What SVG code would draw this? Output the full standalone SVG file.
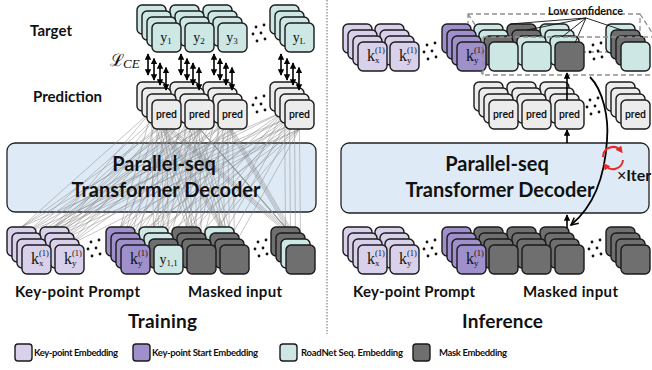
<svg xmlns="http://www.w3.org/2000/svg" xmlns:xlink="http://www.w3.org/1999/xlink" width="652" height="370" viewBox="0 0 652 370">
  <style>
    text { font-family: Lato, "Open Sans", "Liberation Sans", sans-serif; fill: #111; }
    .c { stroke: #1a1a1a; stroke-width: 1.4; }
    .kp { fill: #d9d1eb; }
    .ks { fill: #9f90cc; }
    .rn { fill: #cde7e5; }
    .mk { fill: #6f6f6f; }
    .pd { fill: #ececec; }
    .dec { fill: #deeaf6; stroke: #222; stroke-width: 1.3; }
    .dt { font-size: 20px; font-weight: 700; text-anchor: middle; }
    .sv, .sv text { font-family: "Liberation Serif", "DejaVu Serif", serif; }
    .pr { font-family: Roboto, "Liberation Sans", sans-serif; font-size: 10.5px; font-weight: 500; text-anchor: middle; }
    .lab { font-size: 15px; font-weight: 700; }
    .ttl { font-size: 19px; font-weight: 700; }
    .leg { font-size: 9.5px; font-weight: 700; }
    .web { fill: none; stroke: #8c8c8c; stroke-width: 0.6; stroke-opacity: 0.85; }
    .dbl { stroke: #000; stroke-width: 1.6; marker-start: url(#ah); marker-end: url(#ah); }
    .up { stroke: #000; stroke-width: 1.6; marker-end: url(#ah); }
    .dash { fill: none; stroke: #8f8f8f; stroke-width: 1.3; stroke-dasharray: 5 3; }
  </style>
  <defs>
    <marker id="ah" viewBox="0 0 10 10" refX="9" refY="5" markerWidth="4" markerHeight="4" orient="auto-start-reverse">
      <path d="M0 0L10 5L0 10z" fill="#000"/>
    </marker>
    <marker id="chev" viewBox="0 0 10 10" refX="9" refY="5" markerWidth="5" markerHeight="5" orient="auto">
      <path d="M1 1L9 5L1 9" fill="none" stroke="#000" stroke-width="1.6"/>
    </marker>
    <marker id="rh" viewBox="0 0 10 10" refX="6" refY="5" markerWidth="3.5" markerHeight="3.5" orient="auto">
      <path d="M0 0L10 5L0 10z" fill="#e52a2a"/>
    </marker>
    <!-- stack of four cards, front card at the origin -->
    <g id="stk">
      <rect class="c" x="-15" y="-18" width="29" height="29" rx="5"/>
      <rect class="c" x="-10" y="-12" width="29" height="29" rx="5"/>
      <rect class="c" x="-5" y="-6" width="29" height="29" rx="5"/>
      <rect class="c" x="0" y="0" width="29" height="29" rx="5"/>
    </g>
    <g id="dots" fill="#111">
      <circle cx="4" cy="2" r="1.4"/><circle cx="12" cy="0" r="1.4"/>
      <circle cx="1" cy="9" r="1.4"/><circle cx="9" cy="8" r="1.4"/>
      <circle cx="5" cy="16" r="1.4"/><circle cx="13" cy="14" r="1.4"/>
    </g>
    <!-- four staggered double arrows between target and prediction -->
    <g id="arr4">
      <line class="dbl" x1="-4" y1="54" x2="-4" y2="75"/>
      <line class="dbl" x1="2" y1="58.5" x2="2" y2="80"/>
      <line class="dbl" x1="8" y1="63" x2="8" y2="85"/>
      <line class="dbl" x1="14" y1="67.5" x2="14" y2="90"/>
    </g>
    <!-- attention lines of the front layer; other layers are shifted copies -->
    <path id="web" class="web" d="M166.5 129L36.5 245M166.5 129L69.5 245M166.5 129L135.5 245M166.5 129L168.5 245M166.5 129L201.5 245M166.5 129L234.5 245M166.5 129L300.5 245M199.5 129L36.5 245M199.5 129L69.5 245M199.5 129L135.5 245M199.5 129L168.5 245M199.5 129L201.5 245M199.5 129L234.5 245M199.5 129L300.5 245M232.5 129L36.5 245M232.5 129L69.5 245M232.5 129L135.5 245M232.5 129L168.5 245M232.5 129L201.5 245M232.5 129L234.5 245M232.5 129L300.5 245M299.5 129L36.5 245M299.5 129L69.5 245M299.5 129L135.5 245M299.5 129L168.5 245M299.5 129L201.5 245M299.5 129L234.5 245M299.5 129L300.5 245"/>
  </defs>

  <!-- divider -->
  <line x1="327" y1="0" x2="327" y2="334" stroke="#9a9a9a" stroke-width="1.5" stroke-dasharray="1.5 1.5"/>

  <!-- ===== Training ===== -->
  <g id="dec-train">
    <rect class="dec" x="7" y="143" width="309" height="69" rx="8"/>
  </g>
  <g id="connectors-train">
    <use href="#web"/>
    <use href="#web" x="-5" y="-6"/>
    <use href="#web" x="-10" y="-12"/>
    <use href="#web" x="-15" y="-18"/>
  </g>
  <g id="dec-train-text">
    <text class="dt" x="164" y="171">Parallel-seq</text>
    <text class="dt" x="166" y="197">Transformer Decoder</text>
  </g>

  <!-- stacks are drawn right to left so each front card covers its neighbour -->
  <g id="train-input">
    <rect class="c mk" x="271" y="227" width="29" height="29" rx="5"/>
    <rect class="c mk" x="276" y="233" width="29" height="29" rx="5"/>
    <rect class="c rn" x="281" y="239" width="29" height="29" rx="5"/>
    <rect class="c mk" x="286" y="245" width="29" height="29" rx="5"/>
    <rect class="c rn" x="205" y="227" width="29" height="29" rx="5"/>
    <rect class="c mk" x="210" y="233" width="29" height="29" rx="5"/>
    <rect class="c mk" x="215" y="239" width="29" height="29" rx="5"/>
    <rect class="c mk" x="220" y="245" width="29" height="29" rx="5"/>
    <use href="#stk" class="mk" x="187" y="245"/>
    <rect class="c rn" x="139" y="227" width="29" height="29" rx="5"/>
    <rect class="c rn" x="144" y="233" width="29" height="29" rx="5"/>
    <rect class="c mk" x="149" y="239" width="29" height="29" rx="5"/>
    <rect class="c rn" x="154" y="245" width="29" height="29" rx="5"/>
    <use href="#stk" class="ks" x="121" y="245"/>
    <use href="#stk" class="kp" x="55" y="245"/>
    <use href="#stk" class="kp" x="22" y="245"/>
    <use href="#dots" x="87" y="240"/>
    <use href="#dots" x="254" y="240"/>
    <g class="sv">
      <text x="31" y="264" font-size="16">k</text><text x="39" y="256" font-size="8.5">(1)</text><text x="39" y="266" font-size="9">x</text>
      <text x="64" y="264" font-size="16">k</text><text x="72" y="256" font-size="8.5">(1)</text><text x="72" y="266" font-size="9">y</text>
      <text x="130" y="264" font-size="16">k</text><text x="138" y="256" font-size="8.5">(1)</text><text x="138" y="266" font-size="9">y</text>
      <text x="168.5" y="264" font-size="14" text-anchor="middle">y<tspan font-size="9" dy="2">1,1</tspan></text>
    </g>
  </g>

  <g id="train-pred">
    <use href="#stk" class="pd" x="285" y="100"/>
    <use href="#stk" class="pd" x="218" y="100"/>
    <use href="#stk" class="pd" x="185" y="100"/>
    <use href="#stk" class="pd" x="152" y="100"/>
    <use href="#dots" x="252" y="96"/>
    <text class="pr" x="166.5" y="118">pred</text>
    <text class="pr" x="199.5" y="118">pred</text>
    <text class="pr" x="232.5" y="118">pred</text>
    <text class="pr" x="299.5" y="118">pred</text>
  </g>

  <g id="train-target">
    <use href="#stk" class="rn" x="285" y="23"/>
    <use href="#stk" class="rn" x="218" y="23"/>
    <use href="#stk" class="rn" x="185" y="23"/>
    <use href="#stk" class="rn" x="152" y="23"/>
    <use href="#dots" x="252" y="25"/>
    <g class="sv" font-size="14" text-anchor="middle">
      <text x="166" y="42">y<tspan font-size="9" dy="2">1</tspan></text>
      <text x="199" y="42">y<tspan font-size="9" dy="2">2</tspan></text>
      <text x="232" y="42">y<tspan font-size="9" dy="2">3</tspan></text>
      <text x="299" y="42">y<tspan font-size="9" dy="2">L</tspan></text>
    </g>
  </g>

  <g id="loss-arrows">
    <use href="#arr4" x="152"/>
    <use href="#arr4" x="185"/>
    <use href="#arr4" x="218"/>
    <use href="#arr4" x="285"/>
    <text x="110" y="66" font-family="DejaVu Serif, serif" font-size="17">ℒ</text>
    <text x="123" y="68" class="sv" font-style="italic" font-size="13">CE</text>
  </g>

  <g id="train-labels">
    <text class="lab" x="30" y="36" textLength="42">Target</text>
    <text class="lab" x="33" y="102" textLength="69">Prediction</text>
    <text class="lab" x="15" y="297" textLength="125">Key-point Prompt</text>
    <text class="lab" x="188" y="297" textLength="94">Masked input</text>
    <text class="ttl" x="128" y="328" textLength="69">Training</text>
  </g>

  <!-- ===== Inference ===== -->
  <g id="dec-infer">
    <rect class="dec" x="341" y="143" width="308" height="70" rx="8"/>
    <text class="dt" x="497" y="171">Parallel-seq</text>
    <text class="dt" x="500" y="197">Transformer Decoder</text>
  </g>

  <g id="infer-input">
    <use href="#stk" class="mk" x="621" y="245"/>
    <use href="#stk" class="mk" x="555" y="245"/>
    <use href="#stk" class="mk" x="522" y="245"/>
    <use href="#stk" class="mk" x="489" y="245"/>
    <use href="#stk" class="ks" x="457" y="245"/>
    <use href="#stk" class="kp" x="390" y="245"/>
    <use href="#stk" class="kp" x="358" y="245"/>
    <use href="#dots" x="423" y="240"/>
    <use href="#dots" x="588" y="240"/>
    <g class="sv">
      <text x="367" y="264" font-size="16">k</text><text x="375" y="256" font-size="8.5">(1)</text><text x="375" y="266" font-size="9">x</text>
      <text x="399" y="264" font-size="16">k</text><text x="407" y="256" font-size="8.5">(1)</text><text x="407" y="266" font-size="9">y</text>
      <text x="466" y="264" font-size="16">k</text><text x="474" y="256" font-size="8.5">(1)</text><text x="474" y="266" font-size="9">y</text>
    </g>
  </g>

  <g id="infer-pred">
    <use href="#stk" class="pd" x="621" y="100"/>
    <use href="#stk" class="pd" x="555" y="100"/>
    <use href="#stk" class="pd" x="522" y="100"/>
    <use href="#stk" class="pd" x="489" y="100"/>
    <use href="#dots" x="586" y="98"/>
    <text class="pr" x="503.5" y="118">pred</text>
    <text class="pr" x="536.5" y="118">pred</text>
    <text class="pr" x="569.5" y="118">pred</text>
    <text class="pr" x="635.5" y="118">pred</text>
  </g>

  <!-- back face of the low-confidence box -->
  <path class="dash" d="M468 14H640V52H468ZM468 14L483 37M640 14L655 37M468 52L483 75"/>

  <g id="infer-output">
    <rect class="c rn" x="606" y="24" width="29" height="29" rx="5"/>
    <rect class="c mk" x="611" y="30" width="29" height="29" rx="5"/>
    <rect class="c mk" x="616" y="36" width="29" height="29" rx="5"/>
    <rect class="c rn" x="621" y="42" width="29" height="29" rx="5"/>
    <rect class="c rn" x="540" y="24" width="29" height="29" rx="5"/>
    <rect class="c rn" x="545" y="30" width="29" height="29" rx="5"/>
    <rect class="c rn" x="550" y="36" width="29" height="29" rx="5"/>
    <rect class="c mk" x="555" y="42" width="29" height="29" rx="5"/>
    <rect class="c mk" x="507" y="24" width="29" height="29" rx="5"/>
    <rect class="c mk" x="512" y="30" width="29" height="29" rx="5"/>
    <rect class="c rn" x="517" y="36" width="29" height="29" rx="5"/>
    <rect class="c rn" x="522" y="42" width="29" height="29" rx="5"/>
    <rect class="c rn" x="474" y="24" width="29" height="29" rx="5"/>
    <rect class="c rn" x="479" y="30" width="29" height="29" rx="5"/>
    <rect class="c mk" x="484" y="36" width="29" height="29" rx="5"/>
    <rect class="c rn" x="489" y="42" width="29" height="29" rx="5"/>
    <use href="#stk" class="ks" x="457" y="42"/>
    <use href="#stk" class="kp" x="390" y="42"/>
    <use href="#stk" class="kp" x="358" y="42"/>
    <use href="#dots" x="423" y="43"/>
    <use href="#dots" x="589" y="43"/>
    <g class="sv">
      <text x="367" y="61" font-size="16">k</text><text x="375" y="53" font-size="8.5">(1)</text><text x="375" y="63" font-size="9">x</text>
      <text x="399" y="61" font-size="16">k</text><text x="407" y="53" font-size="8.5">(1)</text><text x="407" y="63" font-size="9">y</text>
      <text x="466" y="61" font-size="16">k</text><text x="474" y="53" font-size="8.5">(1)</text><text x="474" y="63" font-size="9">y</text>
    </g>
  </g>

  <!-- front face of the low-confidence box and its label -->
  <g id="low-confidence">
    <path class="dash" d="M483 37H652M483 37V75H652"/>
    <path d="M586 18L510 24M586 18L527 30M586 18L562 37M586 18L575 43M586 18L622 30" stroke="#111" stroke-width="0.9" fill="none"/>
    <text x="548" y="15" font-family="Roboto, 'Liberation Sans', sans-serif" font-size="12" font-weight="700" textLength="75" lengthAdjust="spacingAndGlyphs">Low confidence</text>
  </g>

  <g id="connectors-infer">
    <line class="up" x1="567" y1="228" x2="567" y2="215"/>
    <line class="up" x1="567" y1="143" x2="567" y2="130"/>
    <line class="up" x1="567" y1="100" x2="567" y2="73"/>
    <path d="M590 77C603 90 609 118 607 140C605 175 594 206 571 225" fill="none" stroke="#000" stroke-width="1.8" marker-end="url(#chev)"/>
  </g>

  <g id="iter">
    <path d="M603 157A10 10 0 0 1 621 151" fill="none" stroke="#e52a2a" stroke-width="2" marker-end="url(#rh)"/>
    <path d="M623 160A10 10 0 0 1 605 165" fill="none" stroke="#e52a2a" stroke-width="2" marker-end="url(#rh)"/>
    <text x="617" y="181" font-size="16"><tspan font-family="'Liberation Sans', sans-serif">×</tspan><tspan font-weight="700">Iter</tspan></text>
  </g>

  <g id="infer-labels">
    <text class="lab" x="353" y="297" textLength="122">Key-point Prompt</text>
    <text class="lab" x="523" y="297" textLength="95">Masked input</text>
    <text class="ttl" x="462" y="328" textLength="81">Inference</text>
  </g>

  <!-- legend -->
  <g id="legend">
    <rect class="c kp" x="15" y="344" width="17" height="17" rx="3"/>
    <text class="leg" x="34" y="356" textLength="84">Key-point Embedding</text>
    <rect class="c ks" x="133" y="344" width="17" height="17" rx="3"/>
    <text class="leg" x="152" y="356" textLength="106">Key-point Start Embedding</text>
    <rect class="c rn" x="280" y="344" width="17" height="17" rx="3"/>
    <text class="leg" x="301" y="356" textLength="102">RoadNet Seq. Embedding</text>
    <rect class="c mk" x="413" y="344" width="17" height="17" rx="3"/>
    <text class="leg" x="439" y="356" textLength="68">Mask Embedding</text>
  </g>
</svg>
